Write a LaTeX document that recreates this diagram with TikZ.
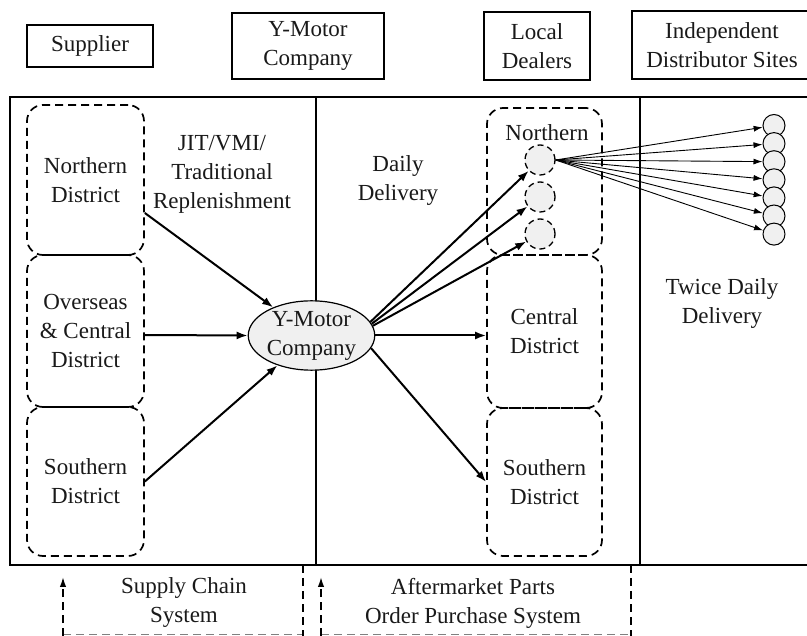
\documentclass[tikz,border=0pt]{standalone}
\usepackage{fontspec}
\setmainfont{Liberation Serif}
\usetikzlibrary{arrows.meta,shapes.geometric}
\begin{document}
\begin{tikzpicture}[x=1pt,y=-1pt,
  every node/.style={font=\fontsize{23}{29}\selectfont, text=black!90, align=center},
  headbox/.style={draw, line width=1.8pt, inner sep=0pt},
  distbox/.style={draw, line width=1.7pt, dash pattern=on 8pt off 5pt,
                  rounded corners=16pt, inner sep=0pt},
  hub/.style={draw, line width=1.3pt, dash pattern=on 6pt off 4pt, circle,
              fill=gray!12, minimum size=30pt, inner sep=0pt},
  site/.style={draw, line width=1pt, circle, fill=gray!12, minimum size=22pt, inner sep=0pt},
  flow/.style={line width=2pt, -{Latex[length=11pt,width=8pt]}},
  fan/.style={line width=0.9pt, -{Latex[length=9pt,width=6pt]}},
  frameline/.style={line width=1.2pt},
  sysarrow/.style={line width=1.6pt, dash pattern=on 8pt off 5pt, -{Latex[length=10pt,width=6.5pt]}},
  sysbase/.style={line width=1pt, gray, dash pattern=on 8pt off 5pt},
  sysside/.style={line width=1.8pt, dash pattern=on 8pt off 5pt}]
\useasboundingbox (0,0) rectangle (807,636);

% column headers
\node[headbox, minimum width=126pt, minimum height=42pt] (hsup) at (90,46) {Supplier};
\node[headbox, minimum width=152pt, minimum height=66pt] (hym) at (308,46) {Y-Motor\\Company};
\node[headbox, minimum width=106pt, minimum height=68pt] (hld) at (537,46) {Local\\Dealers};
\node[headbox, minimum width=180pt, minimum height=68pt] (hids) at (722,45) {Independent\\Distributor Sites};

% main frame and column dividers
\draw[frameline] (10,97) rectangle (812,565);
\draw[frameline] (316,97) -- (316,565);
\draw[frameline] (640,97) -- (640,565);

% supplier districts
\node[distbox, minimum width=117pt, minimum height=150pt] (ln) at (85.5,180) {Northern\\District};
\node[distbox, minimum width=117pt, minimum height=152pt] (lo) at (85.5,331) {Overseas\\\& Central\\District};
\node[distbox, minimum width=117pt, minimum height=149pt] (ls) at (85.5,481.5) {Southern\\District};

% dealer districts
\node[distbox, minimum width=115pt, minimum height=147pt] (rn) at (544.5,181.5) {};
\node (rnt) at (547,133) {Northern};
\node[distbox, minimum width=115pt, minimum height=153pt] (rc) at (544.5,331.5) {Central\\District};
\node[distbox, minimum width=115pt, minimum height=148pt] (rs) at (544.5,482) {Southern\\District};

% northern dealers
\node[hub] (c1) at (540,160) {};
\node[hub] (c2) at (540,197) {};
\node[hub] (c3) at (540,234) {};

% independent distributor sites
\foreach \k in {1,...,7}
  \node[site] (d\k) at (774,{125.5+18.1*(\k-1)}) {};

% the company hub
\node[ellipse, draw, line width=1.2pt, fill=gray!12, minimum width=125pt,
      minimum height=65pt, inner sep=0pt] (ym) at (311.5,335.5) {Y-Motor\\Company};

% flow labels
\node (jit) at (222,174.5) {JIT/VMI/\\Traditional\\Replenishment};
\node (daily) at (398,181) {Daily\\Delivery};
\node (twice) at (722,304) {Twice Daily\\Delivery};

% replenishment flows into the company
\draw[flow] ([yshift=-33pt]ln.east) -- (ym);
\draw[flow] ([yshift=-4pt]lo.east) -- (ym.west);
\draw[flow] (ls.east) -- (ym);

% daily deliveries to dealers
\draw[flow] (ym.13) -- (c1);
\draw[flow] (ym.11) -- (c2);
\draw[flow] (ym.9) -- (c3);
\draw[flow] (ym.east) -- (ym.east -| rc.west);
\draw[flow] (ym.-12) -- (rs.west);

% twice daily deliveries to distributor sites
\foreach \k in {1,...,7}
  \draw[fan] (c1.east) -- (d\k);

% supporting systems
\coordinate (sa0) at (63,636);
\coordinate (sa1) at (63,577);
\coordinate (sb0) at (303,636);
\coordinate (sb1) at (303,565);
\coordinate (ta0) at (321,636);
\coordinate (ta1) at (321,577);
\coordinate (tb0) at (631,636);
\coordinate (tb1) at (631,565);
\draw[sysbase] (63,634.5) -- (303,634.5);
\draw[sysbase] (321,634.5) -- (631,634.5);
\draw[sysarrow] (sa0) -- (sa1);
\draw[sysarrow] (ta0) -- (ta1);
\draw[sysside] (sb1) -- (sb0);
\draw[sysside] (tb1) -- (tb0);
\node (scs) at (184,603) {Supply Chain\\System};
\node (apo) at (473,603) {Aftermarket Parts\\Order Purchase System};
\end{tikzpicture}
\end{document}
